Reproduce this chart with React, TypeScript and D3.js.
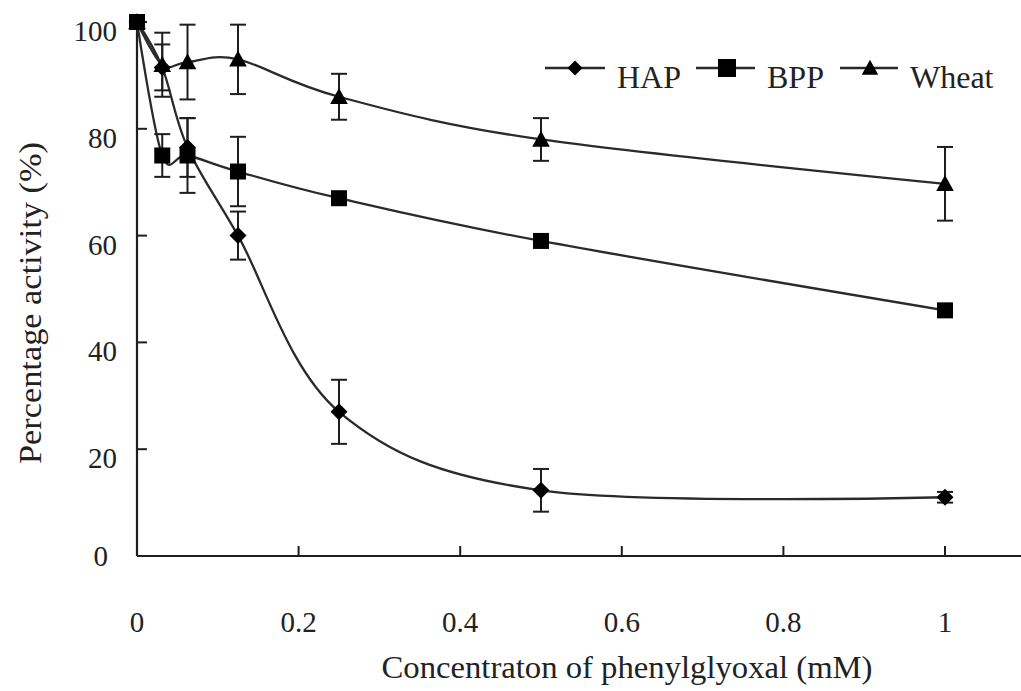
import React from "react";
import * as d3 from "d3";

const concentrations = [0, 0.03125, 0.0625, 0.125, 0.25, 0.5, 1];
const hapValues = [100, 91.5, 76.5, 60, 27, 12.3, 11];
const hapErrors = [0, 4.3, 5.5, 4.5, 6, 4, 1];
const bppValues = [100, 75, 75, 72, 67, 59, 46];
const bppErrors = [0, 4, 7, 6.5, 0, 0, 0];
const wheatValues = [100, 92, 92.5, 93, 86, 78, 69.7];
const wheatErrors = [0, 6, 7, 6.5, 4.3, 4, 6.9];
const seriesNames = ["HAP", "BPP", "Wheat"];
const xTicks = [0, 0.2, 0.4, 0.6, 0.8, 1];
const yTicks = [0, 20, 40, 60, 80, 100];
const xTitle = "Concentraton of phenylglyoxal (mM)";
const yTitle = "Percentage activity (%)";

const W = 1021;
const H = 691;
const FONT = "'Liberation Serif', 'DejaVu Serif', serif";
const INK = "#1e1e1e";

type Shape = "diamond" | "square" | "triangle";

function Marker({ shape, cx, cy, s }: { shape: Shape; cx: number; cy: number; s: number }) {
  if (shape === "square") {
    return <rect x={cx - s / 2} y={cy - s / 2} width={s} height={s} fill="#000" />;
  }
  if (shape === "diamond") {
    const h = s / 2;
    return <path d={`M${cx},${cy - h}L${cx + h},${cy}L${cx},${cy + h}L${cx - h},${cy}Z`} fill="#000" />;
  }
  const w = s * 1.1;
  const h = s;
  return (
    <path
      d={`M${cx},${cy - h * 0.55}L${cx + w / 2},${cy + h * 0.45}L${cx - w / 2},${cy + h * 0.45}Z`}
      fill="#000"
    />
  );
}

export default function App() {
  const x = d3.scaleLinear().domain([0, 1]).range([137, 945]);
  const y = d3.scaleLinear().domain([0, 100]).range([556, 22]);

  const series = [
    { name: seriesNames[0], values: hapValues, errors: hapErrors, shape: "diamond" as Shape, size: 17 },
    { name: seriesNames[1], values: bppValues, errors: bppErrors, shape: "square" as Shape, size: 16 },
    { name: seriesNames[2], values: wheatValues, errors: wheatErrors, shape: "triangle" as Shape, size: 16 },
  ];

  const line = d3
    .line<number>()
    .x((_, i) => x(concentrations[i]))
    .y((v) => y(v))
    .curve(d3.curveCardinal.tension(0));

  const xEnd = x(1.1);

  const legendItems = [
    { lx0: 545, lx1: 605, mx: 575, tx: 617, s: 15 },
    { lx0: 696, lx1: 755, mx: 727, tx: 767, s: 18 },
    { lx0: 840, lx1: 898, mx: 870, tx: 910, s: 15 },
  ];
  const legendY = 68;

  return (
    <svg
      width={W}
      height={H}
      viewBox={`0 0 ${W} ${H}`}
      style={{ position: "absolute", left: 0, top: 0, background: "#fff" }}
    >
      <rect x={0} y={0} width={W} height={H} fill="#fff" />

      {/* axes */}
      <line x1={x(0)} y1={y(0)} x2={xEnd} y2={y(0)} stroke={INK} strokeWidth={2.2} />
      <line x1={x(0)} y1={y(0)} x2={x(0)} y2={y(100)} stroke={INK} strokeWidth={2.2} />

      {xTicks.map((t) => (
        <g key={`xt${t}`}>
          <line x1={x(t)} x2={x(t)} y1={y(0)} y2={y(0) - 10} stroke={INK} strokeWidth={2} />
          <text
            x={x(t)}
            y={632}
            textAnchor="middle"
            fontFamily={FONT}
            fontSize={29}
            fill="#222"
          >
            {String(t)}
          </text>
        </g>
      ))}

      {yTicks.map((t) => (
        <g key={`yt${t}`}>
          {t > 0 && (
            <line x1={x(0)} x2={x(0) + 10} y1={y(t)} y2={y(t)} stroke={INK} strokeWidth={2} />
          )}
          <text
            x={t === 0 ? 108 : 117}
            y={t === 0 ? y(t) + 10 : y(t) + 19}
            textAnchor="end"
            fontFamily={FONT}
            fontSize={29}
            fill="#222"
          >
            {String(t)}
          </text>
        </g>
      ))}

      {/* titles */}
      <text
        x={627}
        y={678}
        textAnchor="middle"
        fontFamily={FONT}
        fontSize={32}
        fill="#222"
        textLength={491}
        lengthAdjust="spacingAndGlyphs"
      >
        {xTitle}
      </text>
      <text
        transform={`translate(41,303) rotate(-90)`}
        textAnchor="middle"
        fontFamily={FONT}
        fontSize={31}
        fill="#222"
        textLength={322}
        lengthAdjust="spacingAndGlyphs"
      >
        {yTitle}
      </text>

      {/* lines */}
      {series.map((s) => (
        <path key={`l${s.name}`} d={line(s.values) || ""} fill="none" stroke="#2a2a2a" strokeWidth={2.3} />
      ))}

      {/* error bars */}
      {series.map((s) =>
        s.values.map((v, i) =>
          s.errors[i] > 0 ? (
            <g key={`e${s.name}${i}`} stroke={INK} strokeWidth={2}>
              <line x1={x(concentrations[i])} x2={x(concentrations[i])} y1={y(v + s.errors[i])} y2={y(v - s.errors[i])} />
              <line x1={x(concentrations[i]) - 8} x2={x(concentrations[i]) + 8} y1={y(v + s.errors[i])} y2={y(v + s.errors[i])} />
              <line x1={x(concentrations[i]) - 8} x2={x(concentrations[i]) + 8} y1={y(v - s.errors[i])} y2={y(v - s.errors[i])} />
            </g>
          ) : null
        )
      )}

      {/* markers */}
      {series.map((s) =>
        s.values.map((v, i) => (
          <Marker key={`m${s.name}${i}`} shape={s.shape} cx={x(concentrations[i])} cy={y(v)} s={s.size} />
        ))
      )}

      {/* legend */}
      {series.map((s, i) => {
        const it = legendItems[i];
        return (
          <g key={`lg${s.name}`}>
            <line x1={it.lx0} x2={it.lx1} y1={legendY} y2={legendY} stroke="#2a2a2a" strokeWidth={2.3} />
            <Marker shape={s.shape} cx={it.mx} cy={legendY} s={it.s} />
            <text x={it.tx} y={88} fontFamily={FONT} fontSize={32} fill="#222">
              {s.name}
            </text>
          </g>
        );
      })}
    </svg>
  );
}
